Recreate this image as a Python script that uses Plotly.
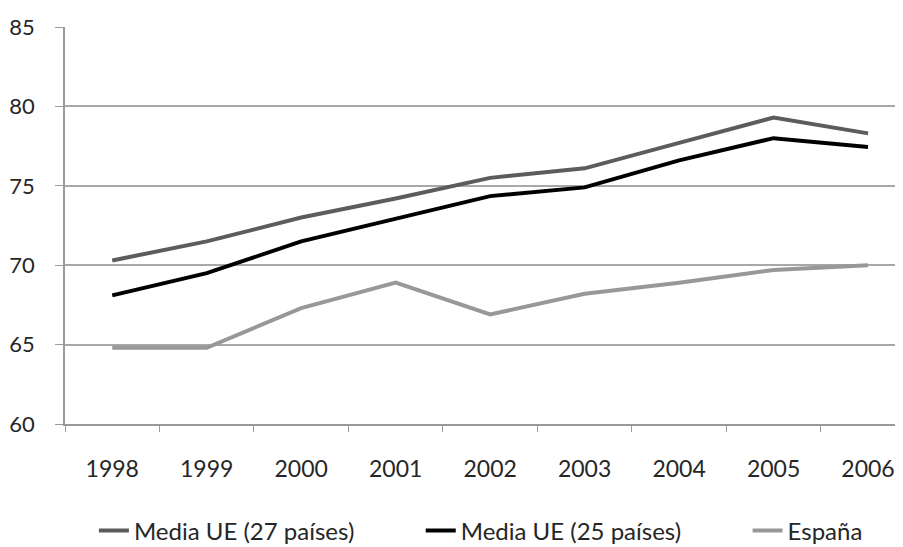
import plotly.graph_objects as go

years = ["1998", "1999", "2000", "2001", "2002", "2003", "2004", "2005", "2006"]
ue27 = [70.3, 71.5, 73.0, 74.2, 75.5, 76.1, 77.7, 79.3, 78.3]
ue25 = [68.1, 69.5, 71.5, 72.9, 74.35, 74.9, 76.6, 78.0, 77.45]
espana = [64.8, 64.8, 67.3, 68.9, 66.9, 68.2, 68.9, 69.7, 70.0]
y_ticks = [60, 65, 70, 75, 80, 85]
names = ["Media UE (27 países)", "Media UE (25 países)", "España"]

FONT = "Lato, Open Sans, sans-serif"
PAD = "\u00a0" * 10

fig = go.Figure()
fig.add_trace(go.Scatter(x=years, y=ue27, mode="lines", name=names[0] + PAD,
                         line=dict(color="#5c5c5c", width=4)))
fig.add_trace(go.Scatter(x=years, y=ue25, mode="lines", name=names[1] + PAD,
                         line=dict(color="#000000", width=4)))
fig.add_trace(go.Scatter(x=years, y=espana, mode="lines", name=names[2],
                         line=dict(color="#989898", width=4)))

# page body has an 8px default margin, so the figure is offset by (8, 8)
fig.update_layout(
    width=895, height=539,
    margin=dict(l=57, r=0, t=19, b=123, autoexpand=False),
    paper_bgcolor="white", plot_bgcolor="white",
    font=dict(family=FONT, size=23, color="#262626"),
    showlegend=True,
    legend=dict(orientation="h", xref="container", yref="container",
                x=0.096, xanchor="left", y=0.030, yanchor="middle",
                font=dict(size=24), itemwidth=30, traceorder="normal"),
    xaxis=dict(type="category", range=[-0.5, 8.37], showgrid=False, automargin=False,
               showline=True, linecolor="#9a9a9a", linewidth=1.5,
               ticks="outside", tickson="boundaries", ticklen=6, tickcolor="#9a9a9a",
               ticklabelstandoff=24, fixedrange=True),
    yaxis=dict(range=[60, 85], tickvals=y_ticks, showgrid=True, gridcolor="#a8a8a8",
               gridwidth=1.5, showline=True, linecolor="#9a9a9a", linewidth=1.5,
               ticks="outside", ticklen=8, tickcolor="#9a9a9a", automargin=False,
               ticklabelstandoff=16, zeroline=False, tickfont=dict(size=22)),
)

fig.write_html("out.html")
